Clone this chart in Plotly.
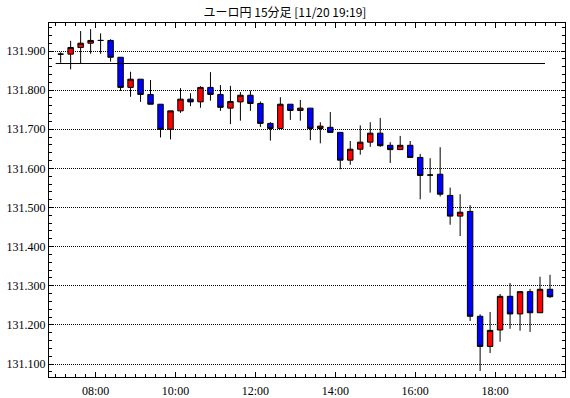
import datetime as dt
import plotly.graph_objects as go

# ---- data ----
trade_date = "2017-11-20"
times = ["07:00", "07:15", "07:30", "07:45", "08:00", "08:15", "08:30", "08:45",
         "09:00", "09:15", "09:30", "09:45", "10:00", "10:15", "10:30", "10:45",
         "11:00", "11:15", "11:30", "11:45", "12:00", "12:15", "12:30", "12:45",
         "13:00", "13:15", "13:30", "13:45", "14:00", "14:15", "14:30", "14:45",
         "15:00", "15:15", "15:30", "15:45", "16:00", "16:15", "16:30", "16:45",
         "17:00", "17:15", "17:30", "17:45", "18:00", "18:15", "18:30", "18:45",
         "19:00", "19:15"]
opens = [131.892, 131.892, 131.909, 131.920, 131.927, 131.927, 131.884, 131.807,
         131.828, 131.789, 131.764, 131.700, 131.747, 131.777, 131.770, 131.807,
         131.789, 131.754, 131.770, 131.787, 131.766, 131.715, 131.702, 131.764,
         131.748, 131.754, 131.702, 131.705, 131.692, 131.621, 131.649, 131.667,
         131.690, 131.659, 131.648, 131.659, 131.628, 131.583, 131.585, 131.531,
         131.478, 131.490, 131.222, 131.145, 131.187, 131.273, 131.228, 131.285,
         131.231, 131.291]
highs = [131.897, 131.926, 131.951, 131.956, 131.945, 131.930, 131.884, 131.847,
         131.828, 131.826, 131.764, 131.747, 131.805, 131.792, 131.810, 131.846,
         131.813, 131.811, 131.795, 131.799, 131.771, 131.718, 131.782, 131.764,
         131.775, 131.754, 131.718, 131.744, 131.692, 131.670, 131.710, 131.718,
         131.729, 131.667, 131.683, 131.670, 131.637, 131.626, 131.654, 131.551,
         131.534, 131.506, 131.227, 131.233, 131.279, 131.307, 131.285, 131.292,
         131.323, 131.328]
lows = [131.870, 131.853, 131.868, 131.893, 131.893, 131.873, 131.798, 131.783,
        131.770, 131.764, 131.679, 131.674, 131.742, 131.759, 131.755, 131.773,
        131.747, 131.713, 131.722, 131.747, 131.706, 131.671, 131.702, 131.724,
        131.722, 131.672, 131.664, 131.692, 131.598, 131.609, 131.635, 131.655,
        131.655, 131.614, 131.648, 131.628, 131.521, 131.538, 131.528, 131.456,
        131.427, 131.210, 131.082, 131.128, 131.157, 131.190, 131.185, 131.182,
        131.231, 131.269]
closes = [131.892, 131.909, 131.920, 131.927, 131.927, 131.884, 131.807, 131.828,
          131.789, 131.764, 131.700, 131.747, 131.777, 131.770, 131.807, 131.789,
          131.756, 131.771, 131.787, 131.766, 131.715, 131.702, 131.764, 131.748,
          131.754, 131.702, 131.708, 131.692, 131.621, 131.649, 131.667, 131.690,
          131.658, 131.648, 131.659, 131.628, 131.582, 131.583, 131.534, 131.478,
          131.488, 131.222, 131.145, 131.186, 131.273, 131.228, 131.285, 131.231,
          131.291, 131.272]
ref_level = 131.868
ref_span = ["07:00", "19:15"]
title_text = "ユーロ円 15分足 [11/20 19:19]"

# ---- helpers ----
def to_dt(t, offset_min=0.0):
    d = dt.datetime.strptime(trade_date + " " + t, "%Y-%m-%d %H:%M")
    return d + dt.timedelta(minutes=offset_min)

bar_x = [to_dt(t, 7.5) for t in times]
ref_x = [to_dt(ref_span[0]), to_dt(ref_span[1])]

fig = go.Figure()
fig.add_trace(go.Candlestick(
    x=bar_x, open=opens, high=highs, low=lows, close=closes,
    increasing=dict(fillcolor="#ff0000", line=dict(color="#000000", width=1)),
    decreasing=dict(fillcolor="#0000ff", line=dict(color="#000000", width=1)),
    whiskerwidth=0, hoverinfo="skip", showlegend=False,
))
fig.add_trace(go.Scatter(
    x=ref_x, y=[ref_level, ref_level], mode="lines",
    line=dict(color="#000000", width=1), hoverinfo="skip", showlegend=False,
))

tick_font = dict(family="Liberation Serif", size=12, color="#000000")

fig.update_layout(
    width=570, height=398,
    margin=dict(l=49, r=5, t=23, b=21),
    paper_bgcolor="#ffffff", plot_bgcolor="#ffffff",
    boxgap=0.22,
    title=dict(text=title_text, x=0.5, xanchor="center", xref="container",
               y=1 - 13 / 398, yanchor="middle", yref="container",
               font=dict(family="Noto Sans CJK JP", size=12, color="#000000")),
    xaxis=dict(
        type="date",
        range=[to_dt("06:50"), to_dt("19:45")],
        rangeslider=dict(visible=False),
        tickformat="%H:%M", tick0=to_dt("00:00"), dtick=2 * 3600 * 1000,
        showgrid=False, zeroline=False,
        showline=True, linecolor="#000000", linewidth=1, mirror="allticks",
        ticks="inside", ticklen=5, tickcolor="#000000", tickwidth=1,
        minor=dict(dtick=15 * 60 * 1000, ticks="inside", ticklen=3,
                   tickcolor="#000000", showgrid=False),
        tickfont=tick_font, ticklabelstandoff=3, automargin=False,
        fixedrange=True,
    ),
    yaxis=dict(
        range=[131.0668, 131.9716],
        tick0=131.0, dtick=0.1, tickformat=".3f",
        showgrid=True, gridcolor="#000000", gridwidth=1, griddash="1px,1px",
        zeroline=False,
        showline=True, linecolor="#000000", linewidth=1, mirror="allticks",
        ticks="inside", ticklen=4, tickcolor="#000000", tickwidth=1,
        minor=dict(dtick=0.02, ticks="inside", ticklen=3,
                   tickcolor="#000000", showgrid=False),
        tickfont=tick_font, ticklabelstandoff=0, automargin=False,
        fixedrange=True,
    ),
)

fig.write_html("out.html")
